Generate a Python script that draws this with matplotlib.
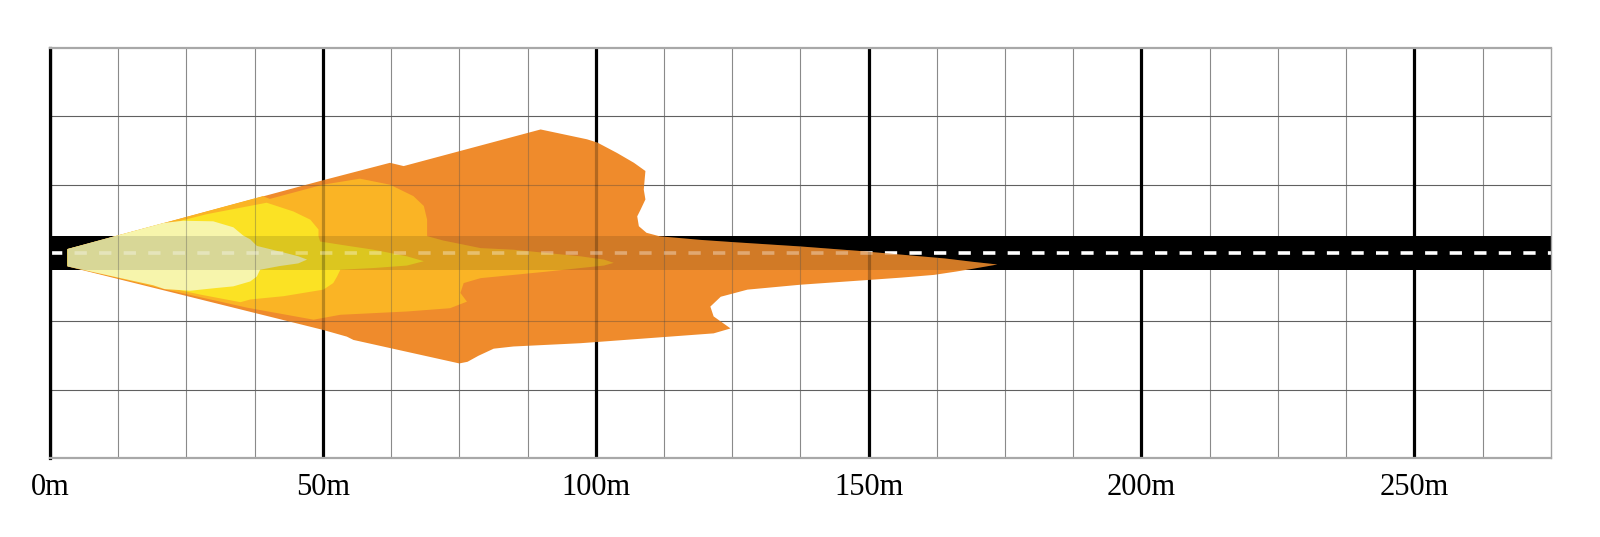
import matplotlib
matplotlib.use('Agg')
import matplotlib.pyplot as plt

# distance labels along the road
tick_pos = [0, 50, 100, 150, 200, 250]
tick_labels = ['0m', '50m', '100m', '150m', '200m', '250m']
minor_pos = [12.5, 25, 37.5, 62.5, 75, 87.5, 112.5, 125, 137.5, 162.5, 175, 187.5,
             212.5, 225, 237.5, 262.5]
row_pos = [-25, -12.5, 12.5, 25]

# beam outlines (metres): outer orange -> light orange -> yellow -> pale
orange_x = [3.2, 50.0, 62.3, 64.8, 89.9, 98.4, 100.3, 103.9, 107.0, 109.1, 108.8, 109.1,
            108.2, 107.6, 107.9, 109.3, 111.7, 119.2, 125.0, 137.5, 148.0, 156.0, 164.0,
            169.0, 173.6, 169.0, 166.0, 162.0, 156.0, 150.4, 137.5, 127.8, 122.9, 121.0,
            121.6, 124.7, 121.6, 109.4, 97.2, 84.9, 81.3, 78.5, 76.5, 75.0, 55.6, 54.4,
            50.0, 3.2]
orange_y = [0.73, 13.3, 16.5, 15.9, 22.6, 20.8, 20.2, 18.3, 16.5, 15.0, 11.6, 9.8,
            7.9, 6.7, 4.9, 3.7, 3.06, 2.4, 2.0, 1.2, 0.4, -0.3, -1.0,
            -1.6, -2.1, -2.9, -3.4, -4.0, -4.5, -4.9, -5.8, -6.7, -8.0, -9.8,
            -11.6, -13.8, -14.7, -15.6, -16.5, -17.1, -17.5, -18.8, -19.9, -20.2, -15.9, -15.3,
            -14.06, -2.45]

lorange_x = [3.2, 39.0, 40.3, 50.0, 56.8, 62.3, 66.6, 68.5, 69.1, 69.1, 72.0, 78.9, 85.0,
             91.1, 97.2, 101.5, 103.3, 101.5, 97.2, 91.1, 85.0, 78.9, 75.8, 75.2, 76.4,
             73.3, 65.4, 53.2, 48.3, 36.1, 20.0, 3.2]
lorange_y = [0.7, 10.4, 9.9, 12.5, 13.6, 12.5, 10.4, 8.6, 6.1, 3.1, 2.3, 0.9, 0.6,
             0.0, -0.6, -1.2, -1.8, -2.3, -2.75, -3.4, -4.0, -4.6, -5.5, -7.3, -8.9,
             -10.1, -10.7, -11.3, -12.2, -10.0, -6.4, -2.4]

yellow_x = [3.2, 28.7, 39.7, 44.6, 47.7, 49.2, 49.2, 49.5, 54.0, 59.3, 65.4, 68.5, 65.4,
            59.3, 53.2, 52.6, 51.9, 50.1, 42.8, 36.7, 34.9, 27.5, 3.2]
yellow_y = [0.7, 7.1, 9.2, 7.6, 6.1, 4.3, 3.06, 2.1, 1.4, 0.6, -0.6, -1.5, -2.3,
            -2.75, -3.06, -4.3, -5.5, -6.7, -7.9, -8.5, -9.0, -7.6, -2.35]

pale_x = [3.2, 20.8, 24.4, 29.9, 33.6, 35.4, 36.7, 37.9, 42.8, 45.5, 47.1, 45.5, 42.0,
          38.5, 37.9, 36.7, 33.6, 30.5, 25.7, 21.0, 18.9, 3.2]
pale_y = [0.73, 5.5, 5.9, 5.8, 4.7, 3.2, 2.5, 1.3, 0.1, -0.6, -1.2, -1.9, -2.4,
          -3.06, -4.3, -5.2, -6.1, -6.4, -6.9, -6.6, -5.9, -2.45]

zones = [(orange_x, orange_y, '#EF8B2C'),
         (lorange_x, lorange_y, '#FAB425'),
         (yellow_x, yellow_y, '#FBE224'),
         (pale_x, pale_y, '#F7F5AC')]

road_half = 3.06

fig = plt.figure(figsize=(16, 5.37), dpi=100)
ax = fig.add_axes([0.03125, 0.1471, 0.938, 0.7635])
ax.set_xlim(0, 275)
ax.set_ylim(-37.5, 37.5)

# grid underneath
ax.vlines(minor_pos, -37.5, 37.5, color='#8a8a8a', lw=0.8, zorder=0.5)
ax.hlines(row_pos, 0, 275, color='#606060', lw=0.8, zorder=0.5)
ax.vlines(tick_pos, -37.5, 37.5, color='black', lw=2.3, zorder=0.6)

# road and centre line
ax.axhspan(-road_half, road_half, color='black', lw=0, zorder=1)
ax.plot([0, 275], [0, 0], color='white', lw=2.6, dashes=(3.4, 3.4), zorder=1.5)

# light zones
patches = []
for i, (xs, ys, c) in enumerate(zones):
    patches += ax.fill(xs, ys, color=c, lw=0, zorder=2 + i * 0.1)
outer = patches[0]

# road, grid and centre line showing through the light
overlay = [
    ax.axhspan(-road_half, road_half, color='black', alpha=0.12, lw=0, zorder=3),
    ax.vlines(minor_pos, -37.5, 37.5, color='#505050', lw=0.8, alpha=0.35, zorder=3),
    ax.hlines(row_pos, 0, 275, color='#404040', lw=0.8, alpha=0.35, zorder=3),
    ax.vlines(tick_pos, -37.5, 37.5, color='black', lw=2.3, alpha=0.25, zorder=3),
    ax.plot([0, 275], [0, 0], color='white', lw=2.6, dashes=(3.4, 3.4), alpha=0.35, zorder=4)[0],
]
for a in overlay:
    a.set_clip_path(outer)

for s in ['top', 'bottom']:
    ax.spines[s].set_color('#a8a8a8')
    ax.spines[s].set_linewidth(1.6)
ax.spines['right'].set_color('#a0a0a0')
ax.spines['right'].set_linewidth(1.0)
ax.spines['left'].set_color('black')
ax.spines['left'].set_linewidth(2.3)

ax.set_xticks(tick_pos)
ax.set_xticklabels(tick_labels, fontfamily='Liberation Serif', fontsize=22)
ax.set_yticks([])
ax.tick_params(axis='x', length=0, pad=11)

fig.savefig('out.png', dpi=100, facecolor='white')
